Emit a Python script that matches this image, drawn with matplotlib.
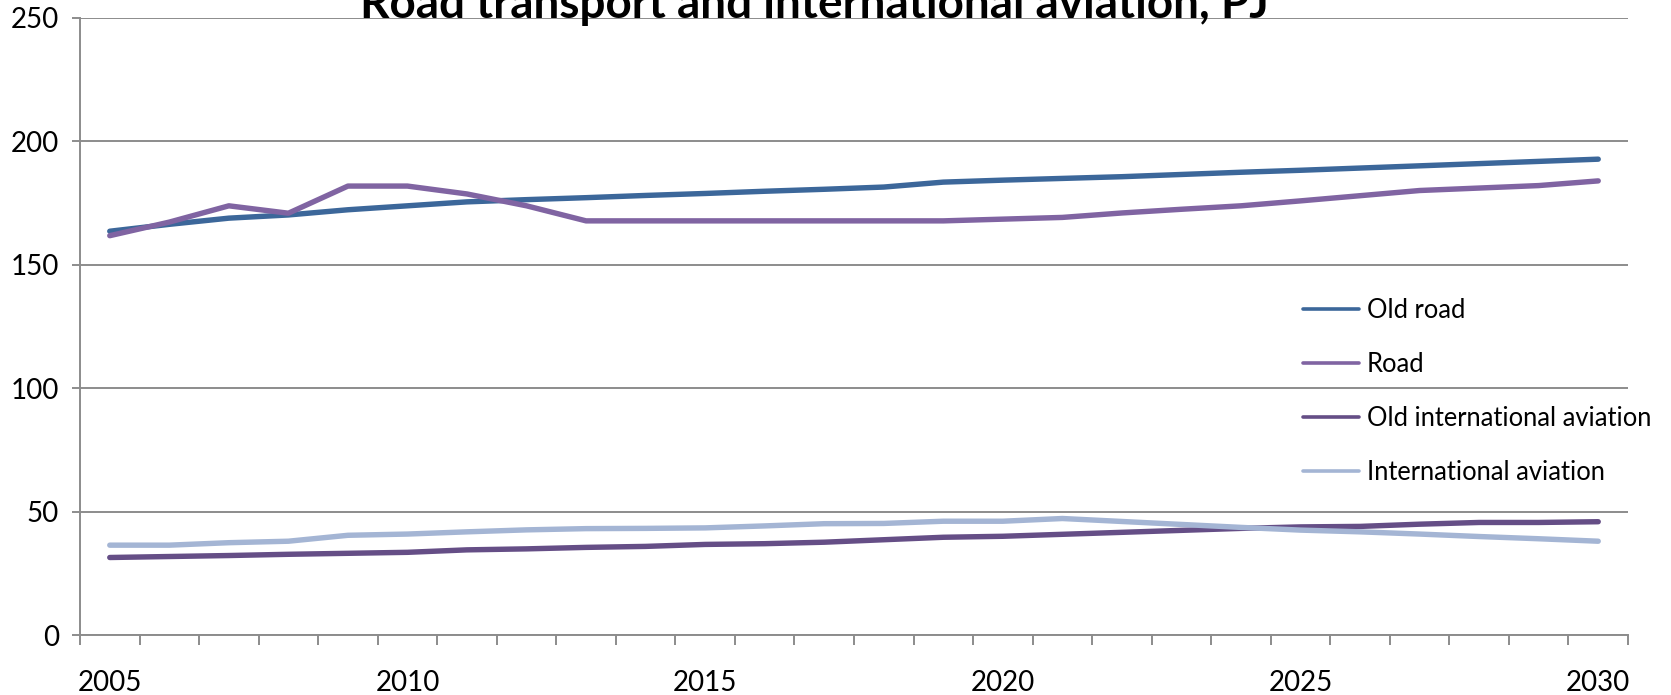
import matplotlib
matplotlib.use("Agg")
import matplotlib.pyplot as plt
import numpy as np

plt.rcParams['font.family'] = ['Lato', 'DejaVu Sans']

years = list(range(2005, 2031))
old_road = [163.6, 166.4, 168.9, 170.2, 172.3, 173.9, 175.5, 176.4, 177.2, 178.1,
            178.9, 179.8, 180.6, 181.5, 183.5, 184.3, 185.0, 185.7, 186.6, 187.5,
            188.3, 189.2, 190.1, 191.0, 191.9, 192.8]
road = [161.8, 167.3, 173.9, 170.9, 181.9, 181.9, 178.7, 173.9, 167.8, 167.8,
        167.8, 167.8, 167.8, 167.8, 167.8, 168.5, 169.2, 171.0, 172.5, 173.9,
        175.9, 178.0, 180.1, 181.1, 182.1, 184.0]
old_intl_aviation = [31.4, 31.8, 32.2, 32.7, 33.1, 33.5, 34.5, 34.9, 35.5, 35.9,
                     36.7, 37.0, 37.6, 38.6, 39.6, 40.0, 40.8, 41.6, 42.4, 43.2,
                     43.8, 44.0, 44.9, 45.6, 45.6, 45.9]
intl_aviation = [36.4, 36.4, 37.4, 38.0, 40.4, 40.9, 41.8, 42.6, 43.1, 43.2,
                 43.4, 44.2, 45.1, 45.2, 46.1, 46.1, 47.2, 46.0, 44.8, 43.6,
                 42.5, 41.8, 40.9, 39.9, 39.0, 38.0]

series_names = ["Old road", "Road", "Old international aviation", "International aviation"]
series_colors = ["#3C679A", "#8064A2", "#654E86", "#A4B5D4"]
year_labels = ["2005", "2010", "2015", "2020", "2025", "2030"]
y_ticks = [0, 50, 100, 150, 200, 250]

W, H = 1671, 695
fig = plt.figure(figsize=(W / 100, H / 100), dpi=100)
ax_left, ax_right, ax_top, ax_bottom = 80, 1628, 18, 635
ax = fig.add_axes([ax_left / W, (H - ax_bottom) / H,
                   (ax_right - ax_left) / W, (ax_bottom - ax_top) / H])

grid_col = "#8C8C8C"
x = np.arange(len(years))
all_series = [old_road, road, old_intl_aviation, intl_aviation]
lines = []
for vals, name, col in zip(all_series, series_names, series_colors):
    ln, = ax.plot(x, vals, color=col, lw=3.9, label=name,
                  solid_capstyle="round", solid_joinstyle="round", zorder=3)
    lines.append(ln)

ax.set_xlim(-0.5, len(years) - 0.5)
ax.set_ylim(0, 250)
ax.set_yticks(y_ticks)
ax.set_yticklabels([str(v) for v in y_ticks])

label_idx = [years.index(int(s)) for s in year_labels]
ax.set_xticks(label_idx)
ax.set_xticklabels(year_labels)
ax.set_xticks(np.arange(-0.5, len(years), 1.0), minor=True)

ax.yaxis.grid(True, color=grid_col, lw=1.4, zorder=1)
ax.set_axisbelow(True)
for s in ["top", "right"]:
    ax.spines[s].set_visible(False)
for s in ["left", "bottom"]:
    ax.spines[s].set_color(grid_col)
    ax.spines[s].set_linewidth(1.4)

ax.tick_params(axis="y", direction="out", length=6, width=1.4, color=grid_col,
               labelsize=20, pad=9)
ax.tick_params(axis="x", which="major", length=0, labelsize=20, pad=25)
ax.tick_params(axis="x", which="minor", direction="out", length=7, width=1.4,
               color=grid_col)

fig.text(814 / W, 1 - 18 / H, "Road transport and international aviation, PJ",
         ha="center", va="baseline", fontsize=33, fontweight="bold")

leg = fig.legend(handles=lines, loc="upper left",
                 bbox_to_anchor=(1303 / W, 1 - 298 / H),
                 frameon=False, fontsize=18.4, handlelength=2.2,
                 handletextpad=0.3, labelspacing=1.14, borderaxespad=0,
                 borderpad=0)
for hl in leg.get_lines():
    hl.set_linewidth(2.6)

fig.savefig("out.png", dpi=100, facecolor="white")
